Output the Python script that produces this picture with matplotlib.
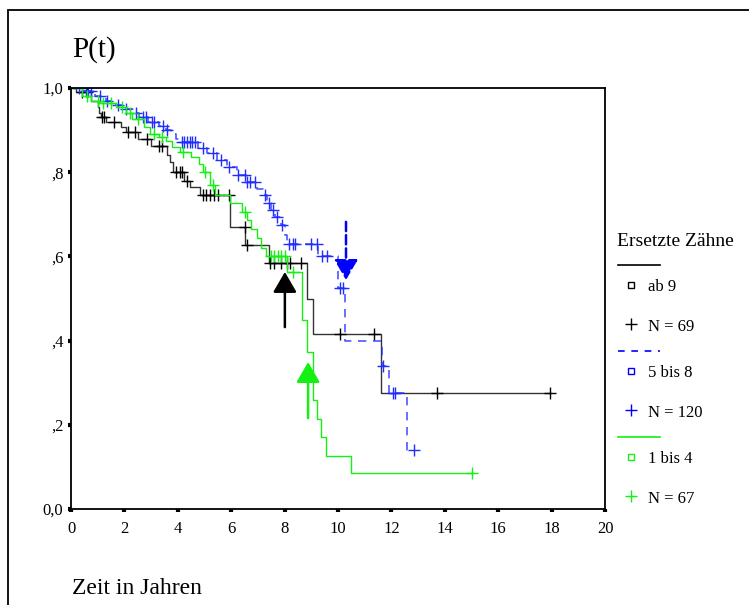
import numpy as np
import matplotlib
matplotlib.use("Agg")
import matplotlib.pyplot as plt
from matplotlib.lines import Line2D
from matplotlib.patches import Rectangle

plt.rcParams['font.family'] = ['Liberation Serif', 'DejaVu Serif']

# Kaplan-Meier curves: step times, survival after step, censored times
black_t = [0, 0.19, 0.75, 1.0, 1.05, 1.12, 1.31, 1.87, 2.06, 2.5, 3.0, 3.6, 3.7, 3.82,
           4.23, 4.46, 4.83, 5.95, 6.52, 7.42, 8.84, 9.06, 11.61]
black_s = [1.0, 0.99, 0.97, 0.955, 0.94, 0.93, 0.92, 0.907, 0.895, 0.88, 0.862, 0.84, 0.824,
           0.80, 0.78, 0.765, 0.746, 0.67, 0.627, 0.585, 0.50, 0.415, 0.275]
black_cens = [0.4, 0.6, 1.15, 1.25, 1.6, 2.15, 2.4, 2.85, 3.3, 3.4, 3.95, 4.1, 4.15, 4.35,
              4.95, 5.05, 5.2, 5.35, 5.5, 5.9, 6.5, 6.6, 7.45, 7.6, 7.85, 8.1, 8.2, 8.6,
              10.07, 11.35, 13.71, 17.94]

blue_t = [0, 0.5, 0.9, 1.3, 1.7, 2.0, 2.35, 2.55, 2.9, 3.3, 3.55, 3.75, 3.95, 4.1, 4.75,
          5.1, 5.45, 5.85, 6.2, 6.55, 6.95, 7.2, 7.35, 7.5, 7.65, 7.85, 8.0, 8.1, 9.25,
          10.0, 10.25, 11.65, 11.9, 12.6]
blue_s = [1.0, 0.993, 0.98, 0.97, 0.96, 0.95, 0.94, 0.93, 0.92, 0.91, 0.90, 0.89, 0.88,
          0.872, 0.857, 0.846, 0.83, 0.812, 0.793, 0.777, 0.76, 0.746, 0.727, 0.71, 0.694,
          0.675, 0.65, 0.63, 0.60, 0.525, 0.40, 0.34, 0.275, 0.14]
blue_cens = [0.3, 0.55, 0.65, 0.75, 1.1, 1.35, 1.75, 2.05, 2.45, 2.7, 2.8, 3.05, 3.1, 3.45,
             3.6, 4.15, 4.25, 4.35, 4.45, 4.55, 4.65, 4.95, 5.3, 5.6, 5.9, 6.25, 6.5, 6.6,
             6.7, 6.9, 7.25, 7.4, 7.55, 7.7, 7.9, 8.15, 8.3, 8.4, 9.0, 9.2, 9.4, 9.6,
             10.07, 10.2, 11.68, 12.05, 12.15, 12.85]

green_t = [0, 0.4, 0.75, 1.05, 1.7, 2.05, 2.3, 2.75, 2.95, 3.3, 3.55, 3.8, 4.1, 4.5, 4.8,
           4.95, 5.2, 5.4, 5.95, 6.4, 6.6, 6.75, 6.95, 7.1, 7.3, 8.1, 8.65, 8.85, 9.05,
           9.2, 9.35, 9.55, 10.5]
green_s = [1.0, 0.98, 0.97, 0.965, 0.955, 0.94, 0.926, 0.907, 0.89, 0.884, 0.874, 0.86,
           0.848, 0.835, 0.82, 0.80, 0.77, 0.745, 0.727, 0.705, 0.686, 0.665, 0.644, 0.62,
           0.60, 0.563, 0.45, 0.373, 0.26, 0.214, 0.171, 0.126, 0.085]
green_cens = [0.6, 1.0, 1.2, 1.5, 1.9, 2.2, 2.5, 3.1, 3.4, 4.2, 5.0, 5.3, 6.5, 7.5, 7.6,
              7.75, 7.85, 8.0, 8.3, 15.0]

# arrows (tail, tip) in data units
arrow_black = ((8.01, 0.432), (8.01, 0.563))
arrow_green = ((8.88, 0.216), (8.88, 0.349))
arrow_blue = ((10.3, 0.682), (10.3, 0.544))

groups = ['ab 9', '5 bis 8', '1 bis 4']
counts = ['N = 69', 'N = 120', 'N = 67']

BLACK = '#000000'
BLUE = '#1f2dff'
GREEN = '#14f014'

fig = plt.figure(figsize=(7.49, 6.05), dpi=100)
ax = fig.add_axes([71 / 749, 1 - 509 / 605, 534 / 749, 421 / 605])


def km(ax, t, s, cens, color, ls, lw=1.0, alpha=0.8):
    tt = list(t) + [cens[-1]]
    ss = list(s) + [s[-1]]
    ax.step(tt, ss, where='post', color=color, ls=ls, lw=lw, alpha=alpha,
            dashes=(5, 4) if ls == '--' else (None, None))
    idx = np.searchsorted(t, cens, side='right') - 1
    cy = np.array(s)[idx]
    ax.plot(cens, cy, ls='none', marker='+', ms=8, mew=1.0, color=color)


km(ax, black_t, black_s, black_cens, BLACK, '-')
km(ax, blue_t, blue_s, blue_cens, BLUE, '--', lw=1.2)
km(ax, green_t, green_s, green_cens, GREEN, '-', alpha=1.0)

for (tail, tip), col, ls in [(arrow_black, BLACK, '-'), (arrow_green, GREEN, '-'),
                             (arrow_blue, '#0000ff', '--')]:
    ax.annotate('', xy=tip, xytext=tail,
                arrowprops=dict(arrowstyle='-|>,head_length=0.62,head_width=0.36',
                                mutation_scale=20, lw=1.8, color=col, ls=ls,
                                shrinkA=0, shrinkB=0))

ax.set_xlim(0, 20)
ax.set_ylim(0, 1.0)
ax.set_xticks(np.arange(0, 21, 2))
ax.set_yticks([0, 0.2, 0.4, 0.6, 0.8, 1.0])
ax.set_yticklabels(['0,0', ',2', ',4', ',6', ',8', '1,0'])
ax.tick_params(length=2.5, width=3, direction='out', labelsize=12, pad=3)
ax.tick_params(axis='x', pad=6)
for sp in ax.spines.values():
    sp.set_linewidth(1.3)

fig.text(72 / 749, 1 - 50 / 605, 'P(t)', fontsize=21, va='center', ha='left')
fig.text(72 / 749, 1 - 588 / 605, 'Zeit in Jahren', fontsize=17, va='center', ha='left')

# outer frame
fig.add_artist(Rectangle((8 / 749, -0.1), 1.2, 1.1 - 10 / 605, transform=fig.transFigure,
                         fill=False, lw=1.3, ec='black'))

# legend drawn to the right
def fx(x):
    return x / 749


def fy(y):
    return 1 - y / 605


fig.text(fx(617), fy(241), 'Ersetzte Zähne', fontsize=14, va='center', ha='left')
line_styles = [(BLACK, '-'), ('#0000ff', '--'), (GREEN, '-')]
for i, (col, ls) in enumerate(line_styles):
    y0 = 265 + i * 86
    ln = Line2D([fx(618), fx(660)], [fy(y0), fy(y0)], color=col, lw=1.2, ls=ls,
                transform=fig.transFigure)
    if ls == '--':
        ln.set_dashes((4, 4))
    fig.add_artist(ln)
    fig.add_artist(Line2D([fx(631)], [fy(y0 + 20)], marker='s', ms=5, mfc='none',
                          mec=col, mew=1.0, ls='none', transform=fig.transFigure))
    fig.text(fx(648), fy(y0 + 22), groups[i], fontsize=12, va='center', ha='left')
    fig.add_artist(Line2D([fx(631)], [fy(y0 + 59)], marker='+', ms=9, mew=1.0,
                          color=col, ls='none', transform=fig.transFigure))
    fig.text(fx(648), fy(y0 + 62), counts[i], fontsize=12, va='center', ha='left')

fig.savefig('out.png', dpi=100)
